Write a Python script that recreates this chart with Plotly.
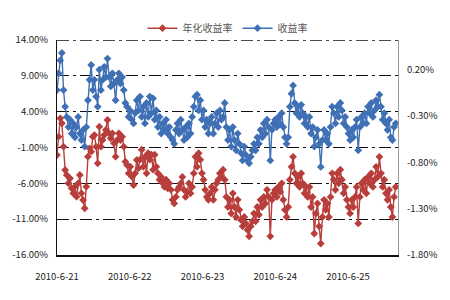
import numpy as np
import plotly.graph_objects as go

# ---- data ----
# 年化收益率 (left axis, %)
annualized = [
    -2.05, 0.51, 3.07, 2.37, -0.88, -4.14, -4.84, -6.0, -5.3, -6.7, -7.4, -6.47, -7.86, -6.0, -4.84, -7.4, -8.33,
    -9.49, -6.47, -2.28, -1.12, -1.58, 0.51, 0.74, -0.88, -3.21, 1.91, -0.88, 0.05, 0.74, 1.44, 2.84, 0.98, 0.28,
    0.98, -0.42, -2.28, 0.05, 0.98, 0.05, 0.51, -0.88, -2.98, -3.44, -4.6, -3.67, -5.07, -6.23, -4.6, -2.74, -3.9,
    -2.7, -1.3, -3.7, -2.3, -4.6, -1.8, -2.7, -2.0, -4.1, -2.0, -3.7, -4.6, -5.5, -5.1, -6.0, -6.5, -5.5, -6.7,
    -6.0, -6.9, -8.3, -8.8, -7.9, -6.9, -6.5, -6.0, -5.1, -6.9, -7.9, -7.2, -6.0, -7.4, -6.5, -4.6, -2.3, -3.7,
    -1.8, -2.7, -4.6, -5.5, -6.9, -7.9, -8.3, -7.4, -6.5, -8.3, -6.9, -6.0, -5.5, -4.6, -5.1, -4.1,
    -5.5, -7.9, -9.3, -8.3, -10.2, -7.4, -9.3, -10.7, -8.3, -9.7, -11.1, -12.0, -10.7, -11.6, -12.5, -13.4, -12.0,
    -11.3, -10.2, -11.3, -9.3, -10.4, -8.3, -9.3, -7.9, -8.8, -6.9, -7.9, -13.4, -8.3, -7.4, -6.9, -7.9, -6.5,
    -7.2, -6.0, -8.3, -9.7, -10.7, -9.3, -5.5, -3.7, -2.3, -4.6, -6.0, -5.1, -6.5, -4.6, -6.0, -7.4, -6.5, -7.9,
    -6.5, -9.3, -7.9, -13.0, -10.2, -8.8, -12.0, -14.4, -10.7, -8.3, -9.7, -8.8, -10.7, -7.9, -4.6, -5.5, -6.9,
    -4.6, -6.0, -4.1, -5.5, -7.4, -6.5, -8.3, -9.3, -10.2, -8.3, -9.3, -7.9, -6.5, -11.6, -7.9, -6.0, -6.9, -5.5,
    -7.4, -5.1, -6.0, -4.6, -6.5, -5.5, -3.7, -5.1, -2.3, -4.6, -6.5, -5.5, -7.4, -8.3, -6.9, -9.3, -10.7, -7.9,
    -6.5,
]
# 收益率 (right axis, %)
returns = [
    -0.02, 0.16, 0.30, 0.38, -0.02, -0.2, -0.31, -0.42, -0.34, -0.49, -0.38, -0.53, -0.42, -0.31, -0.49, -0.56,
    -0.45, -0.63, -0.42, -0.13, 0.09, 0.25, -0.02, 0.09, -0.09, -0.2, 0.20, -0.02, 0.09, 0.23, 0.12, 0.32, 0.12,
    0.02, 0.16, 0.05, -0.13, 0.09, 0.16, 0.05, 0.12, -0.02, -0.16, -0.2, -0.31, -0.24, -0.34, -0.38, -0.27, -0.13,
    -0.24,
    -0.09, -0.31, -0.2, -0.38, -0.16, -0.31, -0.09, -0.27, -0.11, -0.34, -0.24, -0.42, -0.31, -0.49, -0.38, -0.45,
    -0.34, -0.49, -0.42, -0.53, -0.56, -0.6, -0.45, -0.38, -0.49, -0.34, -0.45, -0.56, -0.42, -0.53, -0.38, -0.49,
    -0.31, -0.2, -0.09, -0.07, -0.24, -0.13, -0.34, -0.24, -0.42, -0.34, -0.49, -0.38, -0.31, -0.49, -0.38, -0.27,
    -0.42, -0.24, -0.34, -0.31,
    -0.16, -0.42, -0.56, -0.45, -0.63, -0.42, -0.56, -0.67, -0.49, -0.6, -0.7, -0.78, -0.63, -0.72, -0.78, -0.81,
    -0.74, -0.67, -0.6, -0.67, -0.53, -0.6, -0.45, -0.53, -0.38, -0.49, -0.34, -0.42, -0.78, -0.45, -0.38, -0.34,
    -0.42, -0.31, -0.38, -0.27, -0.42, -0.53, -0.6, -0.53, -0.2, -0.06, 0.03, -0.16, -0.27, -0.2, -0.31, -0.18,
    -0.27, -0.38, -0.31, -0.42,
    -0.31, -0.49, -0.42, -0.63, -0.53, -0.45, -0.6, -0.85, -0.56, -0.45, -0.56, -0.49, -0.6, -0.42, -0.2, -0.27,
    -0.38, -0.2, -0.31, -0.16, -0.24, -0.38, -0.31, -0.42, -0.49, -0.56, -0.45, -0.53, -0.42, -0.34, -0.67, -0.42,
    -0.31, -0.38, -0.27, -0.38, -0.2, -0.27, -0.16, -0.31, -0.24, -0.13, -0.2, -0.07, -0.2, -0.34, -0.27, -0.38,
    -0.45, -0.34, -0.53, -0.56, -0.42, -0.38,
]

MINUTES_PER_DAY = 240
N_DAYS = 5
SAMPLE_STEP = 5.73  # trading minutes between plotted samples
day_labels = ["2010-6-21", "2010-6-22", "2010-6-23", "2010-6-24", "2010-6-25"]
label_positions = [0, 256, 512, 768, 1024]
day_boundaries = [MINUTES_PER_DAY * (i + 1) for i in range(N_DAYS)]

left_ticks = [14, 9, 4, -1, -6, -11, -16]
right_ticks = [0.2, -0.3, -0.8, -1.3, -1.8]

t_red = np.arange(len(annualized)) * SAMPLE_STEP
t_blue = np.arange(len(returns)) * SAMPLE_STEP

RED = "#B83E3B"
BLUE = "#3F70B5"
FONT = "Noto Sans CJK SC, sans-serif"
GRID_DASH = "12px,4px,3px,4px"

fig = go.Figure()
fig.add_trace(go.Scatter(
    x=t_red, y=annualized, name="年化收益率", mode="lines+markers",
    line=dict(color=RED, width=1.4), marker=dict(symbol="diamond", size=6, color=RED),
    yaxis="y"))
fig.add_trace(go.Scatter(
    x=t_blue, y=returns, name="收益率", mode="lines+markers",
    line=dict(color=BLUE, width=1.4), marker=dict(symbol="diamond", size=6, color=BLUE),
    yaxis="y2"))

total = MINUTES_PER_DAY * N_DAYS
fig.update_layout(
    width=450, height=300,
    margin=dict(l=56, r=47, t=40, b=45),
    paper_bgcolor="white", plot_bgcolor="white",
    font=dict(family=FONT, size=9.5, color="#222"),
    showlegend=True,
    legend=dict(orientation="h", x=0.5, xanchor="center", y=1.055, yanchor="middle",
                font=dict(size=10, color="#555"), itemwidth=30, tracegroupgap=0,
                bgcolor="rgba(0,0,0,0)"),
    hovermode=False,
    xaxis=dict(range=[0, total], tickvals=label_positions, ticktext=day_labels,
               ticks="", showgrid=False, showline=True, linecolor="#111", linewidth=1.5,
               zeroline=False, ticklabelstandoff=12),
    xaxis2=dict(range=[0, total], overlaying="x", anchor="y", side="bottom",
                tickvals=day_boundaries, ticks="inside", ticklen=3, tickcolor="#111",
                showticklabels=False, showgrid=False, showline=False, zeroline=False),
    yaxis=dict(range=[-16, 14], tickvals=left_ticks, ticktext=[f"{v:.2f}%" for v in left_ticks],
               showgrid=True, gridcolor="#111", gridwidth=1.3, griddash=GRID_DASH,
               showline=True, linecolor="#111", linewidth=1, zeroline=False, ticks="",
               ticklabelstandoff=6),
    yaxis2=dict(range=[-1.8, 0.52], overlaying="y", side="right",
                tickvals=right_ticks, ticktext=[f"{v:.2f}%" for v in right_ticks],
                showgrid=False, showline=True, linecolor="#999", linewidth=1,
                zeroline=False, ticks="", ticklabelstandoff=6),
    shapes=[dict(type="line", xref="paper", x0=0, x1=1, yref="y",
                 y0=max(left_ticks), y1=max(left_ticks),
                 line=dict(color="#111", width=1.3, dash=GRID_DASH), layer="below")],
)

fig.write_html("out.html")
